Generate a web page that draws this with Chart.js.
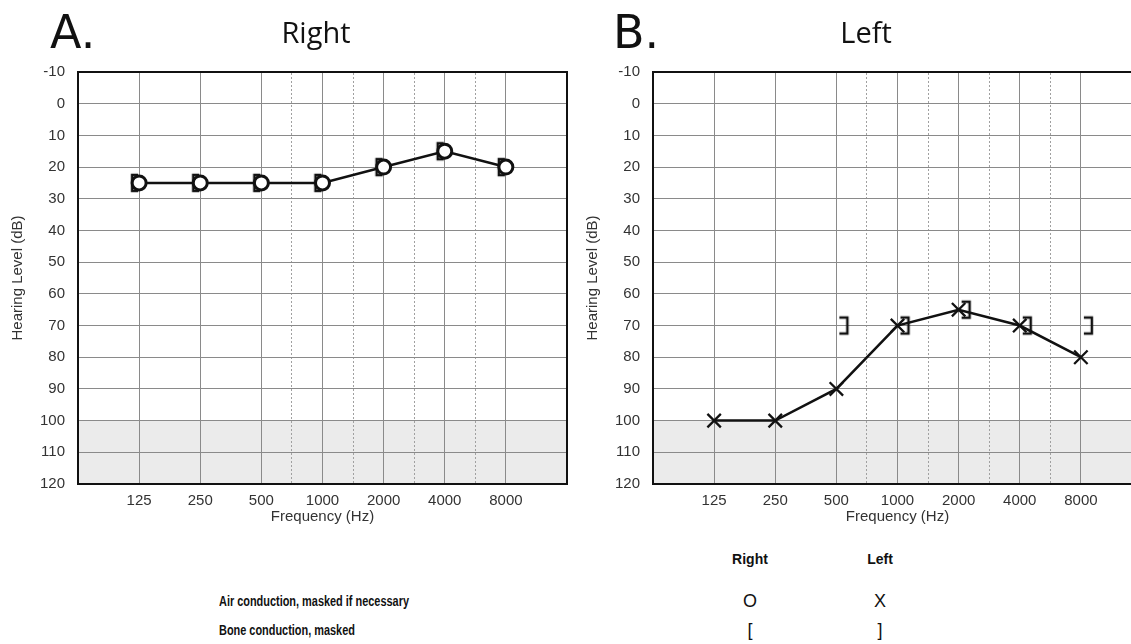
<!DOCTYPE html>
<html>
<head>
    <title>Audiogram - Right and Left</title>
    <script src="https://cdn.jsdelivr.net/npm/chart.js"></script>
    <style>
        body {
            margin: 0;
            width: 1131px;
            height: 644px;
            overflow: hidden;
            position: relative;
            background: #fff;
            font-family: "Liberation Sans", Arial, sans-serif;
            color: #111;
        }
        canvas {
            position: absolute;
            top: 0;
        }
        #chart-right { left: 0; }
        #chart-left { left: 575px; }
        .panel-letter {
            position: absolute;
            top: 9px;
            font-family: "DejaVu Sans", sans-serif;
            font-size: 46px;
            line-height: 46px;
        }
        .panel-title {
            position: absolute;
            top: 17px;
            font-family: "Open Sans", sans-serif;
            font-size: 29px;
            line-height: 29px;
            transform: translateX(-50%);
        }
        .legend-head, .legend-sym {
            position: absolute;
            line-height: 16px;
            transform: translateX(-50%);
        }
        .legend-head {
            font-weight: bold;
            font-size: 14px;
        }
        .legend-sym {
            font-size: 18px;
        }
        .legend-row {
            position: absolute;
            left: 219px;
            line-height: 16px;
            font-size: 14px;
            font-weight: bold;
            transform: scaleX(0.78);
            transform-origin: left center;
            white-space: nowrap;
        }
    </style>
</head>
<body>
<canvas id="chart-right" width="600" height="540"></canvas>
<canvas id="chart-left" width="600" height="540"></canvas>

<div class="panel-letter" style="left:50px">A.</div>
<div class="panel-title" style="left:316px">Right</div>
<div class="panel-letter" style="left:613px">B.</div>
<div class="panel-title" style="left:866px">Left</div>

<div class="legend-head" style="left:750px; top:551px">Right</div>
<div class="legend-head" style="left:880px; top:551px">Left</div>
<div class="legend-row" style="top:593px">Air conduction, masked if necessary</div>
<div class="legend-row" style="top:622px">Bone conduction, masked</div>
<div class="legend-sym" style="left:750px; top:593px">O</div>
<div class="legend-sym" style="left:880px; top:593px">X</div>
<div class="legend-sym" style="left:750px; top:622px">[</div>
<div class="legend-sym" style="left:880px; top:622px">]</div>

<script>
    // Test frequencies (Hz) and the unlabelled half-octave grid lines
    const FREQUENCIES = [125, 250, 500, 1000, 2000, 4000, 8000];
    const HALF_OCTAVES = [707, 1414, 2828, 5657];
    const FREQ_MIN = 62.5;
    const FREQ_MAX = 16000;

    // Hearing levels (dB HL), null = not tested
    const RIGHT_AIR = [25, 25, 25, 25, 20, 15, 20];
    const RIGHT_BONE = [25, 25, 25, 25, 20, 15, 20];
    const LEFT_AIR = [100, 100, 90, 70, 65, 70, 80];
    const LEFT_BONE = [null, null, 70, 70, 65, 70, 70];

    const DB_MIN = -10;
    const DB_MAX = 120;
    const DB_STEP = 10;
    const SHADE_FROM = 100;

    const AXIS_FONT = { family: '"Liberation Sans", Arial, sans-serif', size: 15 };

    function toPoints(values) {
        return FREQUENCIES
            .map((f, i) => ({ x: f, y: values[i] }))
            .filter(p => p.y !== null);
    }

    // Bone conduction bracket symbol: '[' sits left of the point (right ear), ']' right of it (left ear)
    function bracketMarker(ear) {
        const c = document.createElement('canvas');
        c.width = 30;
        c.height = 30;
        const g = c.getContext('2d');
        g.strokeStyle = '#111';
        g.lineWidth = 2.5;
        g.beginPath();
        if (ear === 'right') {
            g.moveTo(14, 7); g.lineTo(8, 7); g.lineTo(8, 23); g.lineTo(14, 23);
        } else {
            g.moveTo(18, 7); g.lineTo(26, 7); g.lineTo(26, 23); g.lineTo(18, 23);
        }
        g.stroke();
        return c;
    }

    // Grey band for levels beyond the audiometer range
    const shadePlugin = {
        id: 'shade',
        beforeDraw(chart) {
            const { ctx, chartArea, scales } = chart;
            const top = scales.y.getPixelForValue(SHADE_FROM);
            const bottom = scales.y.getPixelForValue(DB_MAX);
            ctx.save();
            ctx.fillStyle = '#ebebeb';
            ctx.fillRect(chartArea.left, top, chartArea.right - chartArea.left, bottom - top);
            ctx.restore();
        }
    };

    function renderAudiogram(canvasId, airValues, boneValues, ear) {
        const airStyle = ear === 'right'
            ? { pointStyle: 'circle', pointRadius: 7, pointBorderWidth: 3 }
            : { pointStyle: 'crossRot', pointRadius: 9.5, pointBorderWidth: 2.3 };

        new Chart(document.getElementById(canvasId), {
            type: 'line',
            data: {
                datasets: [
                    {
                        label: 'Air conduction',
                        data: toPoints(airValues),
                        borderColor: '#111',
                        borderWidth: 2.5,
                        pointBackgroundColor: '#fff',
                        pointBorderColor: '#111',
                        ...airStyle
                    },
                    {
                        label: 'Bone conduction, masked',
                        data: toPoints(boneValues),
                        showLine: false,
                        pointStyle: bracketMarker(ear),
                        pointRadius: 10
                    }
                ]
            },
            options: {
                responsive: false,
                animation: false,
                events: [],
                layout: { padding: { top: 72, right: 33, left: 0, bottom: 0 } },
                plugins: {
                    legend: { display: false },
                    tooltip: { enabled: false }
                },
                scales: {
                    x: {
                        type: 'logarithmic',
                        position: 'bottom',
                        bounds: 'data',
                        min: FREQ_MIN,
                        max: FREQ_MAX,
                        afterBuildTicks: s => { s.ticks = FREQUENCIES.map(v => ({ value: v })); },
                        afterFit: s => { s.height = 56; },
                        ticks: {
                            autoSkip: false,
                            maxRotation: 0,
                            padding: 8,
                            color: '#333',
                            font: AXIS_FONT,
                            callback: v => String(v)
                        },
                        grid: { color: '#8a8a8a', lineWidth: 1, drawTicks: false },
                        border: { color: '#111', width: 2 },
                        title: {
                            display: true,
                            text: 'Frequency (Hz)',
                            color: '#333',
                            font: AXIS_FONT,
                            padding: { top: 0, bottom: 14 }
                        }
                    },
                    xMid: {
                        type: 'logarithmic',
                        position: 'top',
                        bounds: 'data',
                        min: FREQ_MIN,
                        max: FREQ_MAX,
                        afterBuildTicks: s => { s.ticks = HALF_OCTAVES.map(v => ({ value: v })); },
                        afterFit: s => { s.height = 0; },
                        ticks: { display: false },
                        grid: { color: '#a0a0a0', lineWidth: 1, drawTicks: false },
                        border: { color: '#111', width: 2, dash: [2, 2] }
                    },
                    y: {
                        type: 'linear',
                        reverse: true,
                        min: DB_MIN,
                        max: DB_MAX,
                        afterFit: s => { s.width = 78; },
                        ticks: { stepSize: DB_STEP, padding: 13, color: '#333', font: AXIS_FONT },
                        grid: { color: '#8a8a8a', lineWidth: 1, drawTicks: false },
                        border: { color: '#111', width: 2 },
                        title: {
                            display: true,
                            text: 'Hearing Level (dB)',
                            color: '#333',
                            font: AXIS_FONT,
                            padding: { top: 9, bottom: 0 }
                        }
                    },
                    yEdge: {
                        type: 'linear',
                        position: 'right',
                        display: true,
                        min: DB_MIN,
                        max: DB_MAX,
                        afterFit: s => { s.width = 0; },
                        ticks: { display: false },
                        grid: { display: false },
                        border: { color: '#111', width: 2 }
                    }
                }
            },
            plugins: [shadePlugin]
        });
    }

    renderAudiogram('chart-right', RIGHT_AIR, RIGHT_BONE, 'right');
    renderAudiogram('chart-left', LEFT_AIR, LEFT_BONE, 'left');
</script>
</body>
</html>
